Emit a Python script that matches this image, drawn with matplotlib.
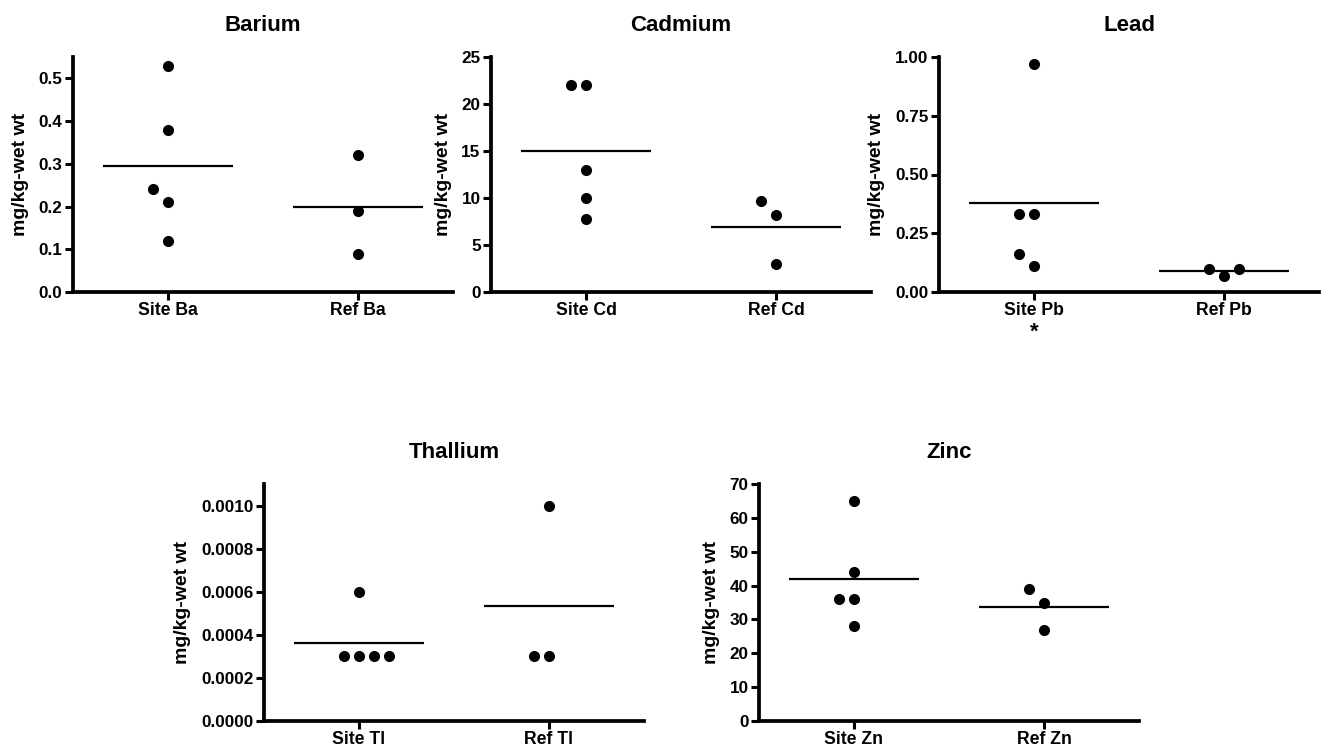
import numpy as np
import matplotlib
matplotlib.use("Agg")
import matplotlib.pyplot as plt

plt.rcParams["font.family"] = ["Liberation Sans", "DejaVu Sans"]
plt.rcParams["font.weight"] = "bold"

# values (mg/kg wet wt)
ba_site = [0.53, 0.38, 0.24, 0.21, 0.12]
ba_ref = [0.32, 0.19, 0.09]
cd_site = [22, 22, 13, 10, 7.8]
cd_ref = [9.7, 8.2, 3.0]
pb_site = [0.97, 0.33, 0.33, 0.16, 0.11]
pb_ref = [0.10, 0.07, 0.10]
tl_site = [0.0006, 0.0003, 0.0003, 0.0003, 0.0003]
tl_ref = [0.001, 0.0003, 0.0003]
zn_site = [65, 44, 36, 36, 28]
zn_ref = [39, 35, 27]

panels = [
    ("Barium", ["Site Ba", "Ref Ba"], [ba_site, ba_ref], 0.55, np.arange(0, 0.51, 0.1), "{:.1f}"),
    ("Cadmium", ["Site Cd", "Ref Cd"], [cd_site, cd_ref], 25, np.arange(0, 26, 5), "{:.0f}"),
    ("Lead", ["Site Pb", "Ref Pb"], [pb_site, pb_ref], 1.0, np.arange(0, 1.01, 0.25), "{:.2f}"),
    ("Thallium", ["Site Tl", "Ref Tl"], [tl_site, tl_ref], 0.0011, np.arange(0, 0.00101, 0.0002), "{:.4f}"),
    ("Zinc", ["Site Zn", "Ref Zn"], [zn_site, zn_ref], 70, np.arange(0, 71, 10), "{:.0f}"),
]

W, H = 1323, 753
# axes boxes in pixels: left, top, right, bottom
boxes = [
    (73, 57, 453, 292),
    (491, 57, 871, 292),
    (939, 57, 1319, 292),
    (264, 484, 644, 721),
    (759, 484, 1139, 721),
]

STEP_PX = 15  # horizontal spacing between touching dots


def swarm(vals, px_per_unit, step):
    # greedy placement: lowest first, shift sideways when a dot overlaps
    order = np.argsort(vals, kind="stable")
    slots = [0, -1, 1, 2, -2, 3, -3]
    placed = []
    offs = np.zeros(len(vals))
    for i in order:
        for s in slots:
            clash = any(ps == s and abs(vals[i] - pv) * px_per_unit < STEP_PX for ps, pv in placed)
            if not clash:
                placed.append((s, vals[i]))
                offs[i] = s * step
                break
    return offs


fig = plt.figure(figsize=(W / 100, H / 100), dpi=100)

for (title, cats, groups, ytop, ticks, fmt), (l, t, r, b) in zip(panels, boxes):
    ax = fig.add_axes([l / W, 1 - b / H, (r - l) / W, (b - t) / H])
    ax.set_xlim(-0.5, 1.5)
    ax.set_ylim(0, ytop)
    px_per_unit = (b - t) / ytop
    step = STEP_PX / ((r - l) / 2)
    for i, vals in enumerate(groups):
        vals = np.array(vals, dtype=float)
        x = i + swarm(vals, px_per_unit, step)
        ax.scatter(x, vals, s=64, color="black", zorder=3, clip_on=False, linewidths=0)
        ax.hlines(vals.mean(), i - 0.34, i + 0.34, color="black", lw=1.6)

    for side in ("top", "right"):
        ax.spines[side].set_visible(False)
    for side in ("left", "bottom"):
        ax.spines[side].set_linewidth(2.7)
    ax.set_xticks(range(len(cats)))
    ax.set_xticklabels(cats, fontsize=12.7, fontweight="bold")
    ax.set_yticks(ticks)
    ax.set_yticklabels([fmt.format(v) for v in ticks], fontsize=12.3, fontweight="bold")
    ax.tick_params(axis="both", length=6, width=2.2, pad=1.5)
    ax.set_ylabel("mg/kg-wet wt", fontsize=14, fontweight="bold", labelpad=7)
    ax.set_title(title, fontsize=16, fontweight="bold", pad=19)
    if title == "Lead":
        ax.annotate("*", xy=(0, 0), xycoords=("data", "axes fraction"),
                    xytext=(0, -29), textcoords="offset points",
                    ha="center", va="center", fontsize=16, fontweight="bold")

fig.savefig("out.png", dpi=100, facecolor="white")
